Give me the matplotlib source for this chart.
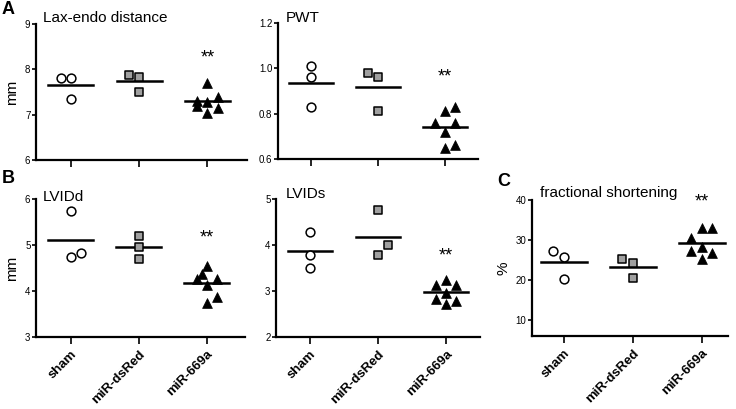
import matplotlib.pyplot as plt

plt.rcParams['font.family'] = ['Liberation Sans', 'DejaVu Sans']

# groups
grupos = ["sham", "miR-dsRed", "miR-669a"]

# Lax-endo distance (mm)
lax_sham = [7.80, 7.80, 7.35]
lax_dsred = [7.87, 7.84, 7.50]
lax_669a = [7.70, 7.40, 7.31, 7.29, 7.19, 7.14, 7.03]

# PWT
pwt_sham = [1.01, 0.96, 0.83]
pwt_dsred = [0.98, 0.96, 0.81]
pwt_669a = [0.76, 0.81, 0.83, 0.76, 0.72, 0.65, 0.66]

# LVIDd (mm)
lvidd_sham = [5.75, 4.74, 4.83]
lvidd_dsred = [5.19, 4.96, 4.70]
lvidd_669a = [4.55, 4.38, 4.26, 4.26, 4.14, 3.87, 3.73]

# LVIDs (mm)
lvids_sham = [4.29, 3.78, 3.51]
lvids_dsred = [4.77, 3.99, 3.78]
lvids_669a = [3.25, 3.13, 3.13, 2.95, 2.82, 2.79, 2.71]

# fractional shortening (%)
fs_sham = [27.3, 25.7, 20.2]
fs_dsred = [25.3, 24.2, 20.6]
fs_669a = [32.9, 32.9, 30.6, 28.2, 27.3, 26.7, 25.3]

# horizontal spread of the dots (in units of one marker width)
desp_lax = [[-1, 0, 0], [-1, 0, 0], [0, 1, -1, 0, -1, 1, 0]]
desp_pwt = [[0, 0, 0], [-1, 0, 0], [-1, 0, 1, 1, 0, 0, 1]]
desp_lvidd = [[0, 0, 1], [0, 0, 0], [0, -0.5, -1, 1, 0, 1, 0]]
desp_lvids = [[0, 0, 0], [0, 1, 0], [0, -1, 1, 0, -1, 1, 0]]
desp_fs = [[-1, 0, 0], [-1, 0, 0], [0, 1, -1, 0, -1, 1, 0]]

W, H = 736, 409
ANCHO = 0.15


def caja(izq, arriba, der, abajo):
    return [izq / W, 1 - abajo / H, (der - izq) / W, (abajo - arriba) / H]


def panel(fig, rect, series, despl, ylim, yticks, titulo, tit_xy, ylabel=None,
          etiquetas=False, fmt="{:g}", y_est=None, xlim=(-0.5, 2.5)):
    ax = fig.add_axes(caja(*rect))
    estilos = [
        dict(marker='o', s=40, facecolors='white', edgecolors='black', linewidths=1.1),
        dict(marker='s', s=38, facecolors='#a0a0a0', edgecolors='black', linewidths=1.1),
        dict(marker='^', s=50, facecolors='black', edgecolors='black', linewidths=0.5),
    ]
    for i, (vals, dx) in enumerate(zip(series, despl)):
        xs = [i + d * ANCHO for d in dx]
        ax.scatter(xs, vals, zorder=3, clip_on=False, **estilos[i])
        media = sum(vals) / len(vals)
        ax.plot([i - 0.33, i + 0.33], [media, media], color='black', lw=1.8, zorder=2)
    if y_est is not None:
        ax.text(2, y_est, "**", ha='center', va='center', fontsize=13)
    ax.set_xlim(*xlim)
    ax.set_ylim(*ylim)
    ax.set_yticks(yticks)
    ax.set_yticklabels([fmt.format(t) for t in yticks], fontsize=7)
    ax.set_xticks(range(3))
    if etiquetas:
        ax.set_xticklabels(grupos, rotation=45, ha='right', va='top',
                           rotation_mode='anchor', fontsize=9.5, fontweight='bold')
    else:
        ax.set_xticklabels([])
    for lado in ('top', 'right'):
        ax.spines[lado].set_visible(False)
    for lado in ('left', 'bottom'):
        ax.spines[lado].set_linewidth(1.6)
    ax.tick_params(axis='y', length=3, width=1.2, pad=1)
    ax.tick_params(axis='x', length=5, width=1.2, pad=3)
    if ylabel:
        ax.set_ylabel(ylabel, fontsize=11, labelpad=4)
    fig.text(tit_xy[0] / W, 1 - tit_xy[1] / H, titulo, fontsize=11,
             ha='left', va='center')
    return ax


fig = plt.figure(figsize=(W / 100, H / 100), dpi=100)

panel(fig, (36, 24, 247, 160), [lax_sham, lax_dsred, lax_669a], desp_lax,
      (6, 9), [6, 7, 8, 9], "Lax-endo distance", (43, 18), ylabel="mm", y_est=8.25,
      xlim=(-0.51, 2.58))
panel(fig, (278, 23, 478, 159), [pwt_sham, pwt_dsred, pwt_669a], desp_pwt,
      (0.6, 1.2), [0.6, 0.8, 1.0, 1.2], "PWT", (286, 18), fmt="{:.1f}", y_est=0.96)
panel(fig, (36, 199, 245, 337), [lvidd_sham, lvidd_dsred, lvidd_669a], desp_lvidd,
      (3, 6), [3, 4, 5, 6], "LVIDd", (43, 197), ylabel="mm", etiquetas=True, y_est=5.15,
      xlim=(-0.51, 2.56))
panel(fig, (276, 199, 480, 337), [lvids_sham, lvids_dsred, lvids_669a], desp_lvids,
      (2, 5), [2, 3, 4, 5], "LVIDs", (286, 194), etiquetas=True, y_est=3.76)
panel(fig, (532, 200, 728, 336), [fs_sham, fs_dsred, fs_669a], desp_fs,
      (6, 40), [10, 20, 30, 40], "fractional shortening", (540, 193), ylabel="%",
      etiquetas=True, y_est=39.4, xlim=(-0.46, 2.38))

for letra, (x, y) in {"A": (2, 10), "B": (2, 179), "C": (497, 181)}.items():
    fig.text(x / W, 1 - y / H, letra, fontsize=13, fontweight='bold',
             ha='left', va='center')

fig.savefig("out.png", dpi=100)
